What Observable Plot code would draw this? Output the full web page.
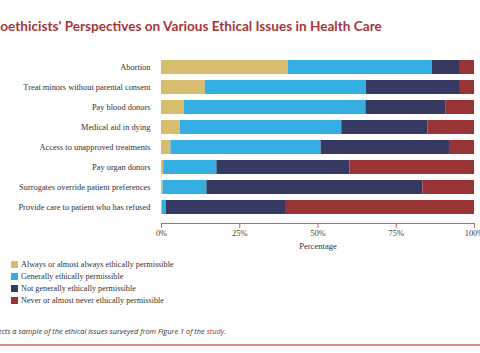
<!DOCTYPE html>
<html>
<head>
<meta charset="utf-8">
<script src="https://cdn.jsdelivr.net/npm/d3@7"></script>
<script src="https://cdn.jsdelivr.net/npm/@observablehq/plot@0.6"></script>
<style>
  html, body { margin: 0; padding: 0; background: #fff; width: 480px; height: 353px; overflow: hidden; }
  #wrap { position: relative; width: 480px; height: 353px; }
  #title { position: absolute; left: -12px; top: 18px; font-family: "Lato", sans-serif; font-weight: 700; font-size: 13.6px; color: #A8373A; white-space: nowrap; }
  #chart { position: absolute; left: 0; top: 0; }
  #legend { position: absolute; left: 11px; top: 258px; font-family: "Liberation Serif", serif; font-size: 8.2px; color: #333; }
  .li { display: flex; align-items: center; height: 12px; }
  .sw { width: 7px; height: 7px; margin-right: 3px; }
  #caption { position: absolute; left: -13px; top: 326px; font-family: "Open Sans", sans-serif; font-style: italic; font-size: 7.4px; color: #333; white-space: nowrap; }
  #caption .lnk { color: #A8373A; }
  #rule { position: absolute; left: 0; top: 344px; width: 480px; height: 2px; background: #E08C8C; }
</style>
</head>
<body>
<div id="wrap">
  <div id="title">Bioethicists' Perspectives on Various Ethical Issues in Health Care</div>
  <div id="chart"></div>
  <div id="legend"></div>
  <div id="caption">reflects a sample of the ethical issues surveyed from Figure 1 of the <span class="lnk">study</span>.</div>
  <div id="rule"></div>
</div>
<script>
const issues = [
  "Abortion",
  "Treat minors without parental consent",
  "Pay blood donors",
  "Medical aid in dying",
  "Access to unapproved treatments",
  "Pay organ donors",
  "Surrogates override patient preferences",
  "Provide care to patient who has refused"
];
const categories = [
  "Always or almost always ethically permissible",
  "Generally ethically permissible",
  "Not generally ethically permissible",
  "Never or almost never ethically permissible"
];
const colors = ["#D9BD6E", "#35AEE2", "#363A62", "#983336"];
const alwaysVals = [40.5, 14.0, 7.3, 6.0, 3.0, 0.7, 0.5, 0.3];
const generallyVals = [46.0, 51.5, 58.0, 51.6, 48.0, 17.0, 14.0, 1.3];
const notGenerallyVals = [9.0, 30.0, 25.5, 27.5, 41.0, 42.5, 69.0, 38.3];
const neverVals = [4.5, 4.5, 9.2, 14.9, 8.0, 39.8, 16.5, 60.1];
const xTicks = [0, 25, 50, 75, 100];
const xLabel = "Percentage";

const series = [alwaysVals, generallyVals, notGenerallyVals, neverVals];
const rows = [];
issues.forEach((issue, i) => {
  series.forEach((vals, j) => rows.push({issue, category: categories[j], value: vals[i]}));
});

const axisRed = "#C9625A";
const plot = Plot.plot({
  width: 480,
  height: 253,
  marginLeft: 161,
  marginRight: 6,
  marginTop: 51,
  marginBottom: 30,
  style: {fontFamily: "'Liberation Serif', serif", fontSize: "8.4px", color: "#333", background: "transparent"},
  x: {domain: [0, 100], label: null},
  y: {domain: issues, padding: 0.29, label: null},
  color: {domain: categories, range: colors},
  marks: [
    Plot.barX(rows, Plot.stackX({x: "value", y: "issue", fill: "category", order: categories})),
    Plot.axisY({tickSize: 0, tickPadding: 11, fill: "#333", label: null}),
    Plot.axisX({ticks: xTicks, tickFormat: d => d + "%", tickSize: 5, tickPadding: 2, stroke: axisRed, fill: "#444", label: null}),
    Plot.text([xLabel], {frameAnchor: "bottom", dy: 25, fill: "#333", fontSize: 8.6})
  ]
});
document.getElementById("chart").appendChild(plot);

// axis line along the bottom of the plot area via the library's x scale
const xs = plot.scale("x");
d3.select(plot).append("line")
  .attr("x1", xs.apply(0)).attr("x2", xs.apply(100))
  .attr("y1", 253 - 30 + 0.5).attr("y2", 253 - 30 + 0.5)
  .attr("stroke", axisRed).attr("stroke-width", 1);

const legend = d3.select("#legend");
categories.forEach((c, i) => {
  const row = legend.append("div").attr("class", "li");
  row.append("div").attr("class", "sw").style("background", colors[i]);
  row.append("span").text(c);
});
</script>
</body>
</html>
